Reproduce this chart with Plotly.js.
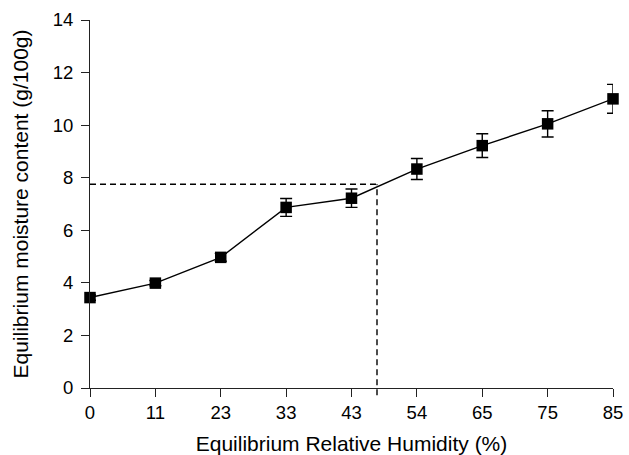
<!DOCTYPE html>
<html>
<head>
<meta charset="utf-8">
<script src="https://cdn.plot.ly/plotly-3.0.1.min.js"></script>
<style>html,body{margin:0;padding:0;background:#fff;}#chart{width:629px;height:455px;}</style>
</head>
<body>
<div id="chart"></div>
<script>
// Data
const rhCategories = ['0', '11', '23', '33', '43', '54', '65', '75', '85'];
const moisture = [3.44, 3.99, 4.97, 6.87, 7.22, 8.33, 9.22, 10.05, 11.0];
const moistureErr = [0.1, 0.1, 0.15, 0.34, 0.35, 0.4, 0.45, 0.5, 0.55];
// Critical point marked by dashed guide lines (category-axis position, moisture)
const criticalX = [4.39];
const criticalY = [7.75];
const yTickVals = [0, 2, 4, 6, 8, 10, 12, 14];

const yMax = 14;
const font = 'Liberation Sans, Arial, Helvetica, sans-serif';
const axisColor = '#222';

const trace = {
  x: rhCategories,
  y: moisture,
  type: 'scatter',
  mode: 'lines+markers',
  line: {color: '#000', width: 1.4},
  marker: {symbol: 'square', size: 11.5, color: '#000'},
  error_y: {type: 'data', array: moistureErr, visible: true, color: '#000', thickness: 1.4, width: 6},
  cliponaxis: false,
  showlegend: false
};

const layout = {
  width: 629, height: 455,
  margin: {l: 90, r: 16, t: 20, b: 67},
  paper_bgcolor: '#fff', plot_bgcolor: '#fff',
  font: {family: font, color: '#000'},
  showlegend: false,
  xaxis: {
    type: 'category',
    range: [0, rhCategories.length - 1],
    showline: true, linecolor: axisColor, linewidth: 1,
    ticks: 'outside', ticklen: 8, tickcolor: axisColor, tickwidth: 1,
    showgrid: false, zeroline: false,
    tickfont: {size: 18.5, family: font, color: '#000'},
    title: {text: 'Equilibrium Relative Humidity (%)', font: {size: 21, family: font, color: '#000'}, standoff: 18}
  },
  yaxis: {
    range: [0, yMax],
    tickvals: yTickVals,
    showline: true, linecolor: axisColor, linewidth: 1,
    ticks: 'outside', ticklen: 8, tickcolor: axisColor, tickwidth: 1,
    ticklabelstandoff: 4,
    showgrid: false, zeroline: false,
    tickfont: {size: 18.5, family: font, color: '#000'},
    title: {text: 'Equilibrium moisture content (g/100g)', font: {size: 21, family: font, color: '#000'}, standoff: 18}
  },
  shapes: [
    {type: 'line', xref: 'x', yref: 'y', x0: 0, x1: criticalX[0], y0: criticalY[0], y1: criticalY[0],
     line: {color: '#000', width: 1.4, dash: '6px,4px'}},
    {type: 'line', xref: 'x', yref: 'paper', x0: criticalX[0], x1: criticalX[0], y0: -0.02, y1: criticalY[0] / yMax,
     line: {color: '#000', width: 1.4, dash: '6px,4px'}}
  ]
};

Plotly.newPlot('chart', [trace], layout, {staticPlot: true, displayModeBar: false});
</script>
</body>
</html>
